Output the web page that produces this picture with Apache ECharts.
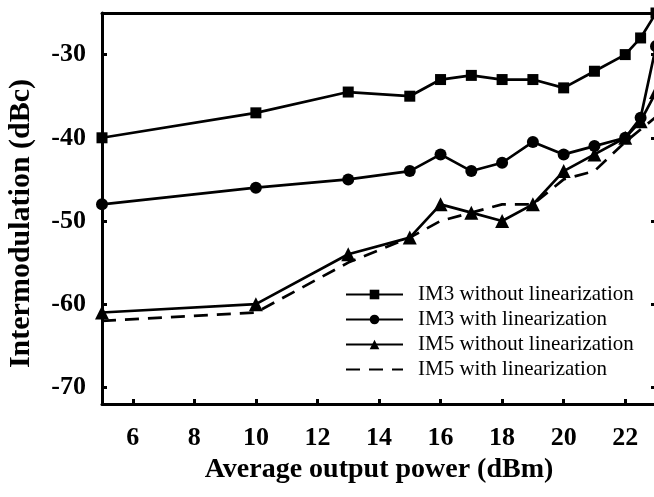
<!DOCTYPE html>
<html>
<head>
<meta charset="utf-8">
<script src="https://cdn.jsdelivr.net/npm/echarts@6/dist/echarts.min.js"></script>
<style>html,body{margin:0;padding:0;background:#fff;}#c{width:654px;height:497px;}</style>
</head>
<body>
<div id="c"></div>
<script>
const seriesNames = ['IM3 without linearization', 'IM3 with linearization', 'IM5 without linearization', 'IM5 with linearization'];
const xIM3noLin = [5, 10, 13, 15, 16, 17, 18, 19, 20, 21, 22, 22.5, 23];
const yIM3noLin = [-40, -37, -34.5, -35, -33, -32.5, -33, -33, -34, -32, -30, -28, -25];
const xIM3lin = [5, 10, 13, 15, 16, 17, 18, 19, 20, 21, 22, 22.5, 23];
const yIM3lin = [-48, -46, -45, -44, -42, -44, -43, -40.5, -42, -41, -40, -37.6, -29];
const xIM5noLin = [5, 10, 13, 15, 16, 17, 18, 19, 20, 21, 22, 22.5, 23];
const yIM5noLin = [-61, -60, -54, -52, -48, -49, -50, -48, -44, -42, -40, -38, -34.5];
const xIM5lin = [5, 10, 13, 15, 16, 17, 18, 19, 20, 21, 22, 23];
const yIM5lin = [-62, -61, -55, -52, -50, -49, -48, -48, -45, -44, -40.5, -37.5];
const xTicks = [6, 8, 10, 12, 14, 16, 18, 20, 22];
const yTicks = [-70, -60, -50, -40, -30];

const pair = (xs, ys) => xs.map((x, i) => [x, ys[i]]);
const FONT = 'Liberation Serif';
const lineStyle = { color: '#000', width: 2.7 };

const chart = echarts.init(document.getElementById('c'), null, { renderer: 'canvas' });
chart.setOption({
  animation: false,
  backgroundColor: '#fff',
  grid: { left: 102, width: 554, top: 13, height: 391, outerBoundsMode: 'none', containLabel: false },
  legend: {
    orient: 'vertical', left: 345, top: 284, padding: 0,
    itemWidth: 57, itemHeight: 12, itemGap: 4,
    textStyle: { fontFamily: FONT, fontSize: 21, color: '#000', padding: [0, 0, 0, 10] },
    data: [
      { name: seriesNames[0] },
      { name: seriesNames[1] },
      { name: seriesNames[2] },
      { name: seriesNames[3], itemStyle: { opacity: 0 } }
    ]
  },
  xAxis: [{
    type: 'value', min: 5, max: 23,
    name: 'Average output power (dBm)', nameLocation: 'middle', nameGap: 46,
    nameTextStyle: { fontFamily: FONT, fontWeight: 'bold', fontSize: 28, color: '#000' },
    axisLine: { lineStyle: { color: '#000', width: 3 } },
    axisTick: { inside: true, length: 5, lineStyle: { color: '#000', width: 3 }, customValues: xTicks },
    axisLabel: { fontFamily: FONT, fontWeight: 'bold', fontSize: 26, color: '#000', margin: 21, customValues: xTicks },
    splitLine: { show: false }
  }, {
    type: 'value', min: 5, max: 23, position: 'top',
    axisLine: { show: true, lineStyle: { color: '#000', width: 3 } },
    axisTick: { show: false }, axisLabel: { show: false }, splitLine: { show: false }
  }],
  yAxis: [{
    type: 'value', min: -72, max: -25,
    name: 'Intermodulation (dBc)', nameLocation: 'middle', nameGap: 66, nameRotate: 90,
    nameTextStyle: { fontFamily: FONT, fontWeight: 'bold', fontSize: 30, color: '#000', padding: [0, 30, 0, 0] },
    axisLine: { lineStyle: { color: '#000', width: 3 } },
    axisTick: { inside: true, length: 5, lineStyle: { color: '#000', width: 3 }, customValues: yTicks },
    axisLabel: { fontFamily: FONT, fontWeight: 'bold', fontSize: 26, color: '#000', margin: 16, customValues: yTicks },
    splitLine: { show: false }
  }, {
    type: 'value', min: -72, max: -25, position: 'right',
    axisLine: { show: true, lineStyle: { color: '#000', width: 3 } },
    axisTick: { show: true, inside: true, length: 5, lineStyle: { color: '#000', width: 3 }, customValues: yTicks },
    axisLabel: { show: false },
    splitLine: { show: false }
  }],
  series: [
    { name: seriesNames[0], type: 'line', data: pair(xIM3noLin, yIM3noLin), symbol: 'rect', symbolSize: 11,
      itemStyle: { color: '#000' }, lineStyle: lineStyle },
    { name: seriesNames[1], type: 'line', data: pair(xIM3lin, yIM3lin), symbol: 'circle', symbolSize: 12,
      itemStyle: { color: '#000' }, lineStyle: lineStyle },
    { name: seriesNames[2], type: 'line', data: pair(xIM5noLin, yIM5noLin), symbol: 'triangle', symbolSize: 14,
      itemStyle: { color: '#000' }, lineStyle: lineStyle },
    { name: seriesNames[3], type: 'line', data: pair(xIM5lin, yIM5lin), symbol: 'none',
      itemStyle: { color: '#000' }, lineStyle: { color: '#000', width: 2.7, type: [14, 9] } }
  ]
});
</script>
</body>
</html>
